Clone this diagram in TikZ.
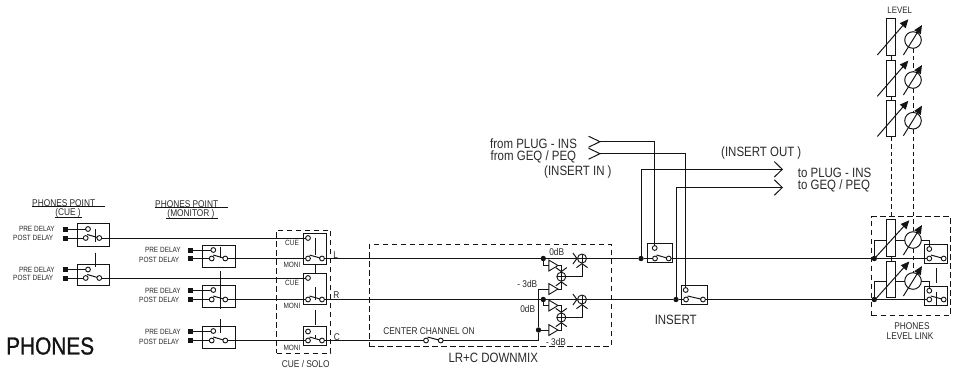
\documentclass[tikz,border=0pt]{standalone}
\usepackage{fontspec}
\setmainfont[FakeStretch=0.85]{Liberation Sans}
\newfontfamily\headfont[FakeStretch=0.85,FakeBold=1]{Liberation Sans}
\usepackage{xcolor}
\usetikzlibrary{arrows.meta,shapes.geometric}
\definecolor{PHInk}{HTML}{141414}
\definecolor{PHText}{HTML}{2A2A2A}
\tikzset{
  wire/.style={PHInk,line width=.98pt},
  swbox/.style={draw=PHInk,line width=.98pt,inner sep=0pt,outer sep=0pt},
  contact/.style={circle,draw=PHInk,line width=.9pt,minimum size=4.8pt,inner sep=0pt,outer sep=0pt},
  padsq/.style={fill=PHInk,minimum size=5pt,inner sep=0pt,outer sep=0pt},
  junction/.style={circle,fill=PHInk,minimum size=5.4pt,inner sep=0pt,outer sep=0pt},
  dashbox/.style={draw=PHInk,dashed,dash pattern=on 5.5pt off 3.5pt,line width=.98pt,inner sep=0pt},
  linkdash/.style={PHInk,dashed,dash pattern=on 4.5pt off 3pt,line width=.98pt},
  tinylabel/.style={text=PHText,inner sep=0pt,font=\fontsize{7.6}{8}\selectfont},
  midlabel/.style={text=PHText,inner sep=0pt,font=\fontsize{9.8}{11}\selectfont},
  biglabel/.style={text=PHText,inner sep=0pt,font=\fontsize{13.5}{14}\selectfont},
  amptri/.style={isosceles triangle,isosceles triangle apex angle=62,draw=PHInk,line width=.9pt,inner sep=0pt,outer sep=0pt,minimum height=9pt},
  mixer/.style={circle,draw=PHInk,line width=.9pt,inner sep=0pt,outer sep=0pt,path picture={
    \draw[PHInk,line width=.8pt] (path picture bounding box.north) -- (path picture bounding box.south)
      (path picture bounding box.west) -- (path picture bounding box.east);}},
  fader/.style={draw=PHInk,line width=.98pt,minimum width=9.8pt,inner sep=0pt,outer sep=0pt},
  meter/.style={circle,draw=PHInk,line width=.98pt,minimum size=16.6pt,inner sep=0pt,outer sep=0pt},
  gain/.style={PHInk,line width=.98pt,-{Triangle[length=8.5pt,width=7.5pt]}},
  barb/.style={-{Straight Barb[length=4pt,width=11pt]}},
  bigbarb/.style={-{Straight Barb[length=8pt,width=15.5pt]}},
}
\begin{document}
\begin{tikzpicture}[x=1pt,y=-1pt]
\path[use as bounding box] (0,0) rectangle (953,370);
\fill[white] (0,0) rectangle (953,370);
% headings
\node[text=PHInk,inner sep=0pt,font=\headfont\fontsize{24.5}{25}\selectfont,anchor=west] (phones) at (6,346) {PHONES};
\node[midlabel,anchor=west] (cuehead) at (32,202.7) {PHONES POINT};
\node[midlabel] (cuesub) at (68,213) {(CUE )};
\node[midlabel,anchor=west] (monhead) at (155,203.7) {PHONES POINT};
\node[midlabel] (monsub) at (191,213.5) {(MONITOR )};
\draw[PHInk,line width=.7pt] (32,206.5) -- (105,206.5) (55,217) -- (82,217);
\draw[PHInk,line width=.7pt] (155,207.5) -- (228,207.5) (166,218) -- (218,218);
% cue points
\node[swbox,minimum width=32pt,minimum height=23pt] (cuesw1) at (93,234.5) {};
\node[swbox,minimum width=32pt,minimum height=21pt] (cuesw2) at (93,274.7) {};
\node[tinylabel,anchor=east] (cuepretx1) at (55,229) {PRE DELAY};
\node[tinylabel,anchor=east] (cueposttx1) at (53.5,238) {POST DELAY};
\node[tinylabel,anchor=east] (cuepretx2) at (55,269.5) {PRE DELAY};
\node[tinylabel,anchor=east] (cueposttx2) at (53.5,278) {POST DELAY};
\node[padsq] (cuepada1) at (65.3,229) {};
\node[padsq] (cuepadb1) at (65.3,238) {};
\node[padsq] (cuepada2) at (65.3,269.5) {};
\node[padsq] (cuepadb2) at (65.3,278) {};
\node[contact] (cuepre1) at (88,229) {};
\node[contact] (cuepost1) at (85.7,238) {};
\node[contact] (cueout1) at (99.3,238) {};
\node[contact] (cuepre2) at (88,269.5) {};
\node[contact] (cuepost2) at (85.7,278) {};
\node[contact] (cueout2) at (99.3,278) {};
\draw[wire] (cuepada1) -- (cuepre1);
\draw[wire] (cuepadb1) -- (cuepost1);
\draw[wire] (cuepada2) -- (cuepre2);
\draw[wire] (cuepadb2) -- (cuepost2);
\draw[wire] ([shift={(1.5,-3.5)}]cuepost1.center) -- (cueout1);
\draw[wire] ([shift={(1.5,-3.5)}]cuepost2.center) -- (cueout2);
\draw[wire] (95,229) coordinate (cuelinka) -- (95,241.7) coordinate (cuelinkb);
\draw[wire] (95,252.7) coordinate (cuelinkc) -- (95,267) coordinate (cuelinkd);
% monitor points
\node[swbox,minimum width=33pt,minimum height=22pt] (monsw1) at (218.5,256) {};
\node[swbox,minimum width=33pt,minimum height=22pt] (monsw2) at (218.5,296.2) {};
\node[swbox,minimum width=33pt,minimum height=22pt] (monsw3) at (218.5,337) {};
\node[tinylabel,anchor=east] (monpretx1) at (181,250) {PRE DELAY};
\node[tinylabel,anchor=east] (monposttx1) at (179.5,259.5) {POST DELAY};
\node[tinylabel,anchor=east] (monpretx2) at (181,290.5) {PRE DELAY};
\node[tinylabel,anchor=east] (monposttx2) at (179.5,300) {POST DELAY};
\node[tinylabel,anchor=east] (monpretx3) at (181,331.5) {PRE DELAY};
\node[tinylabel,anchor=east] (monposttx3) at (179.5,341.5) {POST DELAY};
\node[padsq] (monpada1) at (190.7,250) {};
\node[padsq] (monpadb1) at (190.7,258.5) {};
\node[padsq] (monpada2) at (190.7,290) {};
\node[padsq] (monpadb2) at (190.7,299.5) {};
\node[padsq] (monpada3) at (190.7,331) {};
\node[padsq] (monpadb3) at (190.7,340.5) {};
\node[contact] (monpre1) at (213.3,250) {};
\node[contact] (monpost1) at (211.7,258.5) {};
\node[contact] (monout1) at (225.3,258.5) {};
\node[contact] (monpre2) at (213.3,290) {};
\node[contact] (monpost2) at (211.7,299.5) {};
\node[contact] (monout2) at (225.3,299.5) {};
\node[contact] (monpre3) at (213.3,331) {};
\node[contact] (monpost3) at (211.7,340.5) {};
\node[contact] (monout3) at (225.3,340.5) {};
\draw[wire] (monpada1) -- (monpre1);
\draw[wire] (monpadb1) -- (monpost1);
\draw[wire] (monpada2) -- (monpre2);
\draw[wire] (monpadb2) -- (monpost2);
\draw[wire] (monpada3) -- (monpre3);
\draw[wire] (monpadb3) -- (monpost3);
\draw[wire] ([shift={(1.5,-3.5)}]monpost1.center) -- (monout1);
\draw[wire] ([shift={(1.5,-3.5)}]monpost2.center) -- (monout2);
\draw[wire] ([shift={(1.5,-3.5)}]monpost3.center) -- (monout3);
\draw[wire] (220,246.7) coordinate (monlinka) -- (220,258) coordinate (monlinkb);
\draw[wire] (220,271) coordinate (monlinkc) -- (220,309) coordinate (monlinkd);
\draw[wire] (220,319) coordinate (monlinke) -- (220,333) coordinate (monlinkf);
% cue / solo
\node[dashbox,minimum width=54.3pt,minimum height=123pt] (cuesolo) at (303.8,291.5) {};
\node[midlabel] (cuesolotx) at (305.7,364) {CUE / SOLO};
\node[swbox,minimum width=23pt,minimum height=31pt] (cssw1) at (314.8,248.5) {};
\node[swbox,minimum width=23pt,minimum height=31pt] (cssw2) at (314.8,288.5) {};
\node[swbox,minimum width=23pt,minimum height=18.6pt] (cssw3) at (314.8,336) {};
\node[contact] (cstop1) at (308,238) {};
\node[contact] (csbot1) at (308,258.5) {};
\node[contact] (csout1) at (322,258.5) {};
\node[contact] (cstop2) at (308,278) {};
\node[contact] (csbot2) at (308,299.5) {};
\node[contact] (csout2) at (322,299.5) {};
\node[contact] (cstop3) at (308,331.5) {};
\node[contact] (csbot3) at (308,340.5) {};
\node[contact] (csout3) at (322,340.5) {};
\node[tinylabel] (cstxa) at (292,243) {CUE};
\node[tinylabel] (cstxb) at (292,265) {MONI};
\node[tinylabel] (cstxc) at (292,283) {CUE};
\node[tinylabel] (cstxd) at (292,306) {MONI};
\node[tinylabel] (cstxe) at (292,348) {MONI};
\node[midlabel] (cstxl) at (335.7,255) {L};
\node[midlabel] (cstxr) at (336.5,295.5) {R};
\node[midlabel] (cstxcc) at (337,337.5) {C};
\draw[wire] (cueout1) -- (cstop1);
\draw[wire] (cueout2) -- (cstop2);
\draw[wire] (monout1) -- (csbot1);
\draw[wire] (monout2) -- (csbot2);
\draw[wire] (monout3) -- (csbot3);
\draw[wire] ([shift={(1.5,-3.5)}]csbot1.center) -- (csout1);
\draw[wire] ([shift={(1.5,-3.5)}]csbot2.center) -- (csout2);
\draw[wire] ([shift={(1.5,-3.5)}]csbot3.center) -- (csout3);
\draw[wire] (315.3,238) coordinate (cslinka) -- (315.3,255) coordinate (cslinkb);
\draw[wire] (315.3,264) coordinate (cslinkc) -- (315.3,273) coordinate (cslinkd);
\draw[wire] (315.3,287) coordinate (cslinke) -- (315.3,300) coordinate (cslinkf);
\draw[wire] (315.3,310) coordinate (cslinkg) -- (315.3,325) coordinate (cslinkh);
\draw[wire] (315.3,335) coordinate (cslinki) -- (315.3,338) coordinate (cslinkj);
% downmix
\node[dashbox,minimum width=242pt,minimum height=102pt] (downmix) at (490,295) {};
\node[biglabel] (downmixtx) at (493.3,358) {LR+C DOWNMIX};
\node[midlabel] (centertx) at (429,331) {CENTER CHANNEL ON};
\node[midlabel] (dbtxa) at (556.7,251.7) {0dB};
\node[midlabel,anchor=east] (dbtxb) at (537.5,284) {- 3dB};
\node[midlabel] (dbtxc) at (527.7,309) {0dB};
\node[midlabel] (dbtxd) at (556,342) {- 3dB};
\node[junction] (dmjl) at (543.3,258.5) {};
\node[junction] (dmjr) at (543.3,299.5) {};
\node[junction] (dmjc) at (538.5,330) {};
\coordinate (dmcorner) at (538.5,340.5);
\node[contact] (centerin) at (426,340.5) {};
\node[contact] (centerout) at (440.7,340.5) {};
\node[amptri] (tria) at (552,265.5) {};
\node[amptri] (trib) at (552,289) {};
\node[amptri] (tric) at (552,305.5) {};
\node[amptri] (trid) at (552,330) {};
\node[mixer,minimum size=9pt] (mixl) at (582,258.5) {};
\node[mixer,minimum size=9pt] (mixr) at (582,299.5) {};
\node[mixer,minimum size=9pt] (smixl) at (561.3,276.7) {};
\node[mixer,minimum size=9pt] (smixr) at (561.3,317.5) {};
\draw[wire] (csout3) -- (centerin);
\draw[wire] ([shift={(1.5,-3.5)}]centerin.center) -- (centerout);
\draw[wire] (centerout) -- (dmcorner) -- (dmjc);
\draw[wire] (dmjc) |- (trib.west);
\draw[wire] (dmjc) -- (trid.west);
\draw[wire,barb] (csout1) -- (dmjl) -- (mixl);
\draw[wire,barb] (csout2) -- (dmjr) -- (mixr);
\draw[wire] (dmjl) |- (tria.west);
\draw[wire] (dmjr) |- (tric.west);
\draw[wire,barb] (tria.east) -| (smixl.north);
\draw[wire,barb] (trib.east) -| (smixl.south);
\draw[wire,barb] (tric.east) -| (smixr.north);
\draw[wire,barb] (trid.east) -| (smixr.south);
\draw[wire,barb] (smixl.east) -| (mixl.south);
\draw[wire,barb] (smixr.east) -| (mixr.south);
% insert
\node[biglabel,anchor=west] (fromplug) at (490,143.5) {from PLUG - INS};
\node[biglabel,anchor=west] (fromgeq) at (490.5,156.5) {from GEQ / PEQ};
\node[biglabel,anchor=west] (insintx) at (544,171.7) {(INSERT IN )};
\node[biglabel,anchor=west] (insouttx) at (721,153) {(INSERT OUT )};
\node[biglabel,anchor=west] (toplug) at (797.7,172.5) {to PLUG - INS};
\node[biglabel,anchor=west] (togeq) at (797.7,185.5) {to GEQ / PEQ};
\node[biglabel] (inserttx) at (675.7,320) {INSERT};
\coordinate (plugin) at (600,141.7);
\coordinate (geqin) at (600,153.7);
\coordinate (plugout) at (783,169.3);
\coordinate (geqout) at (783,187.5);
\node[swbox,minimum width=24.7pt,minimum height=18.7pt] (inssw1) at (660.3,252.7) {};
\node[swbox,minimum width=26.4pt,minimum height=18.7pt] (inssw2) at (694.5,294.7) {};
\node[junction] (insjl) at (641,258.5) {};
\node[junction] (insjr) at (676,299.5) {};
\node[contact] (instop1) at (654.7,248) {};
\node[contact] (insbot1) at (655,258.5) {};
\node[contact] (insout1) at (668.7,258.5) {};
\node[contact] (instop2) at (685.7,290) {};
\node[contact] (insbot2) at (686,299.5) {};
\node[contact] (insout2) at (703,299.5) {};
\draw[wire] ([shift={(-11.5,-5.5)}]plugin) -- (plugin) -- ([shift={(-11.5,5.5)}]plugin);
\draw[wire] ([shift={(-11.5,-5.5)}]geqin) -- (geqin) -- ([shift={(-11.5,5.5)}]geqin);
\draw[wire] (plugin) -| (instop1);
\draw[wire] (geqin) -| (instop2);
\draw[wire,bigbarb] (insjl) |- (plugout);
\draw[wire,bigbarb] (insjr) |- (geqout);
\draw[wire] (mixl) -- (insjl) -- (insbot1);
\draw[wire] (mixr) -- (insjr) -- (insbot2);
\draw[wire] ([shift={(1.5,-3.5)}]insbot1.center) -- (insout1);
\draw[wire] ([shift={(1.5,-3.5)}]insbot2.center) -- (insout2);
% level
\node[midlabel,font=\fontsize{9.3}{10}\selectfont] (leveltx) at (899.7,10) {LEVEL};
\node[fader,minimum height=36.6pt] (lvfad1) at (891,37) {};
\node[fader,minimum height=36.6pt] (lvfad2) at (891,78.3) {};
\node[fader,minimum height=36.6pt] (lvfad3) at (891,118.5) {};
\node[fader,minimum height=37.4pt] (lvfad4) at (891,238) {};
\node[fader,minimum height=36.4pt] (lvfad5) at (891,279.2) {};
\node[meter] (lvmet1) at (913,40) {};
\node[meter] (lvmet2) at (913,80) {};
\node[meter] (lvmet3) at (913,120.7) {};
\node[meter] (lvmet4) at (913,240) {};
\node[meter] (lvmet5) at (913,281) {};
\draw[wire] (lvfad1) -- (lvfad2);
\draw[wire] (lvfad2) -- (lvfad3);
\draw[wire] (lvfad4) -- (lvfad5);
\draw[linkdash] (lvfad3) -- (lvfad4);
\draw[linkdash] (lvmet1) -- (lvmet2);
\draw[linkdash] (lvmet2) -- (lvmet3);
\draw[linkdash] (lvmet3) -- (lvmet4);
\draw[linkdash] (lvmet4) -- (lvmet5);
\draw[gain] ([shift={(-13.7,18)}]lvfad1.center) -- ([shift={(17.3,-17.7)}]lvfad1.center);
\draw[gain] ([shift={(-13.7,18)}]lvfad2.center) -- ([shift={(17.3,-17.7)}]lvfad2.center);
\draw[gain] ([shift={(-13.7,18)}]lvfad3.center) -- ([shift={(17.3,-17.7)}]lvfad3.center);
\draw[gain] ([shift={(-16,20)}]lvfad4.center) -- ([shift={(18.3,-17.7)}]lvfad4.center);
\draw[gain] ([shift={(-16,20.5)}]lvfad5.center) -- ([shift={(18.3,-17.7)}]lvfad5.center);
\draw[gain] ([shift={(-9.6,15)}]lvmet1.center) -- ([shift={(9,-15)}]lvmet1.center);
\draw[gain] ([shift={(-9.6,15)}]lvmet2.center) -- ([shift={(9,-15)}]lvmet2.center);
\draw[gain] ([shift={(-9.6,15)}]lvmet3.center) -- ([shift={(9,-15)}]lvmet3.center);
\draw[gain] ([shift={(-9.6,15)}]lvmet4.center) -- ([shift={(9,-15)}]lvmet4.center);
\draw[gain] ([shift={(-9.6,15)}]lvmet5.center) -- ([shift={(9,-15)}]lvmet5.center);
% level link
\node[dashbox,minimum width=79pt,minimum height=99pt] (lvlink) at (911.2,266.2) {};
\node[midlabel] (lvlinktxa) at (912,326) {PHONES};
\node[midlabel] (lvlinktxb) at (910,336.5) {LEVEL LINK};
\node[junction] (lvjl) at (874.3,258.5) {};
\node[junction] (lvjr) at (874.3,299.5) {};
\node[swbox,minimum width=23.4pt,minimum height=19pt] (lvsw1) at (936,253.8) {};
\node[swbox,minimum width=23.4pt,minimum height=18.6pt] (lvsw2) at (936,296) {};
\node[contact] (lvtop1) at (929.3,249) {};
\node[contact] (lvbot1) at (929.3,258.5) {};
\node[contact] (lvout1) at (943.7,258.5) {};
\node[contact] (lvtop2) at (929.3,290.7) {};
\node[contact] (lvbot2) at (929.3,299.5) {};
\node[contact] (lvout2) at (943.7,299.5) {};
\draw[wire] (insout1) -- (lvjl) -- (lvbot1);
\draw[wire] (insout2) -- (lvjr) -- (lvbot2);
\draw[wire] (lvjl) |- (lvfad4.west |- lvmet4.west);
\draw[wire] (lvjr) |- (lvfad5.west |- lvmet5.west);
\draw[wire] (lvfad4.east |- lvmet4.west) -- (lvmet4.west);
\draw[wire] (lvfad5.east |- lvmet5.west) -- (lvmet5.west);
\draw[wire] (lvmet4.east) -| (lvtop1);
\draw[wire] (lvmet5.east) -| (lvtop2);
\draw[wire] ([shift={(1.5,-3.5)}]lvbot1.center) -- (lvout1);
\draw[wire] ([shift={(1.5,-3.5)}]lvbot2.center) -- (lvout2);
\draw[wire] (936,268.3) coordinate (lvlinka) -- (936,283.3) coordinate (lvlinkb);
\draw[wire] (936,291.7) coordinate (lvlinkc) -- (936,306) coordinate (lvlinkd);
\end{tikzpicture}
\end{document}
